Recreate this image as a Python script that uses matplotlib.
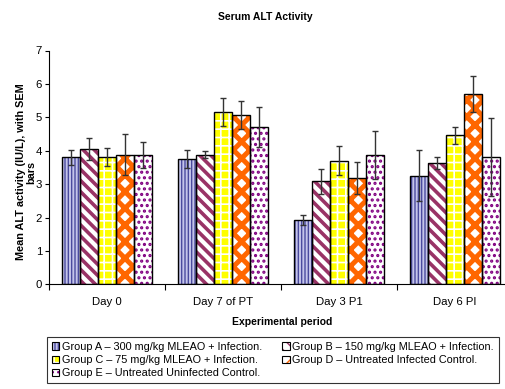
import numpy as np
import matplotlib
matplotlib.use('Agg')
import matplotlib.pyplot as plt
from matplotlib.patches import Patch
from matplotlib.legend_handler import HandlerTuple

plt.rcParams['font.family'] = ['Liberation Sans', 'DejaVu Sans']

# data
periods = ['Day 0', 'Day 7 of PT', 'Day 3 P1', 'Day 6 PI']
groups = ['Group A \u2013 300 mg/kg MLEAO + Infection.',
          'Group B \u2013 150 mg/kg MLEAO + Infection.',
          'Group C \u2013 75 mg/kg MLEAO + Infection.',
          'Group D \u2013 Untreated Infected Control.',
          'Group E \u2013 Untreated Uninfected Control.']
grp_a = [3.80, 3.76, 1.93, 3.25]
grp_b = [4.05, 3.88, 3.08, 3.62]
grp_c = [3.82, 5.15, 3.70, 4.46]
grp_d = [3.88, 5.07, 3.18, 5.70]
grp_e = [3.87, 4.70, 3.87, 3.82]
sem_a = [0.22, 0.27, 0.15, 0.77]
sem_b = [0.32, 0.10, 0.37, 0.18]
sem_c = [0.27, 0.42, 0.43, 0.25]
sem_d = [0.62, 0.43, 0.48, 0.55]
sem_e = [0.40, 0.60, 0.73, 1.17]

means = [grp_a, grp_b, grp_c, grp_d, grp_e]
sems = [sem_a, sem_b, sem_c, sem_d, sem_e]

# style per group: face, hatch, hatch colour, hatch width
styles = [
    ('#c4c4ea', '|||||', '#4a4a9e', 1.0),
    ('white', '\\\\\\', '#993366', 2.6),
    ('#ffff00', '++', 'white', 1.2),
    ('white', 'xx', '#ff6600', 3.6),
    ('white', '...', '#800080', 1.5),
]

fig = plt.figure(figsize=(5.06, 3.89), dpi=100)
ax = fig.add_axes([49/506, 1-284.3/389, 464/506, (284.3-50.5)/389])

x = np.arange(len(periods))
w = 18/116
handles = []
for i in range(5):
    fc, hatch, hc, hw = styles[i]
    pos = x + (i - 2) * w
    with plt.rc_context({'hatch.linewidth': hw}):
        ax.bar(pos, means[i], w, color=fc, hatch=hatch, edgecolor=hc, linewidth=0, zorder=2)
        hp = Patch(facecolor=fc, hatch=hatch, edgecolor=hc, linewidth=0)
    ax.bar(pos, means[i], w, fill=False, edgecolor='black', linewidth=1.0, zorder=3)
    ax.errorbar(pos, means[i], yerr=sems[i], fmt='none', ecolor='#333333',
                elinewidth=1.0, capsize=2, capthick=1.0, zorder=4)
    op = Patch(fill=False, edgecolor='black', linewidth=0.8)
    handles.append((hp, op))

ax.set_xlim(-0.5, 3.5)
ax.set_ylim(0, 7)
ax.set_yticks(range(8))
ax.set_xticks(x)
ax.set_xticklabels(periods)
ax.set_xticks(np.arange(-0.5, 4.0, 1.0), minor=True)
ax.tick_params(axis='x', which='major', length=0, pad=9, labelsize=8.2)
ax.tick_params(axis='x', which='minor', length=4, direction='out', width=0.8)
ax.tick_params(axis='y', length=3, width=0.8, labelsize=8.2, pad=2)
for s in ['top', 'right']:
    ax.spines[s].set_visible(False)
ax.spines['left'].set_linewidth(0.8)
ax.spines['bottom'].set_linewidth(0.8)

fig.text(265/506, 1-17/389, 'Serum ALT Activity', ha='center', va='center',
         fontsize=7.5, fontweight='bold')
fig.text(282/506, 1-322/389, 'Experimental period', ha='center', va='center',
         fontsize=7.5, fontweight='bold')
fig.text(26/506, 1-172/389, 'Mean ALT activity (IU/L), with SEM\nbars', ha='center',
         va='center', rotation=90, fontsize=7.8, fontweight='bold', linespacing=1.0)

order = [0, 2, 4, 1, 3]
leg = fig.legend([handles[k] for k in order], [groups[k] for k in order],
                 handler_map={tuple: HandlerTuple(ndivide=1)},
                 loc='upper left', bbox_to_anchor=(47/506, 1-337/389), ncol=2,
                 fontsize=7.8, frameon=True, fancybox=False, borderpad=0.45,
                 handlelength=0.7, handleheight=0.7, handletextpad=0.2,
                 labelspacing=0.3, columnspacing=1.9, borderaxespad=0)
leg.get_frame().set_edgecolor('black')
leg.get_frame().set_linewidth(0.8)

fig.savefig('out.png', dpi=100)
